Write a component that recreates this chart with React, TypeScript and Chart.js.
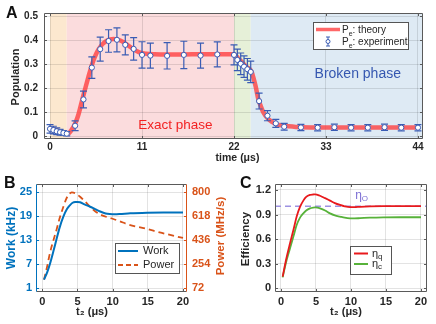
import React, { useEffect, useRef } from "react";
import { Chart, registerables } from "chart.js";

Chart.register(...registerables);

const FF = "'Liberation Sans', Arial, Helvetica, sans-serif";
const GRID = "rgba(0,0,0,0.11)";
const BOX = "#5a5a5a";
const INK = "#262626";

// ===== Panel A: excited-state population vs time =====
const theoryTime = [0, 0.5, 1, 1.5, 2, 2.2, 2.5, 2.8, 3.1, 3.4, 3.7, 4.0, 4.3, 4.6, 4.9, 5.2, 5.5, 5.8, 6.1, 6.4, 6.8, 7.2, 7.6, 8.0, 8.4, 8.8, 9.2, 9.6, 10.0, 10.4, 10.8, 11.5, 12.5, 14, 16, 18, 20, 22, 22.5, 23, 23.5, 24.1, 24.35, 24.6, 24.9, 25.2, 25.5, 26.1, 26.6, 27.1, 27.8, 28.5, 30, 33, 36, 40, 44];
const theoryPop = [0.033, 0.028, 0.022, 0.016, 0.011, 0.011, 0.022, 0.038, 0.06, 0.09, 0.13, 0.171, 0.21, 0.248, 0.285, 0.317, 0.342, 0.362, 0.377, 0.388, 0.398, 0.404, 0.405, 0.404, 0.399, 0.392, 0.382, 0.372, 0.362, 0.354, 0.348, 0.344, 0.342, 0.341, 0.341, 0.342, 0.342, 0.342, 0.325, 0.307, 0.289, 0.269, 0.24, 0.206, 0.155, 0.125, 0.1, 0.071, 0.058, 0.049, 0.044, 0.041, 0.037, 0.036, 0.036, 0.036, 0.036];
const expTime = [0, 0.4, 0.8, 1.2, 1.6, 2.0, 3, 4, 5, 6, 7, 8, 9, 10, 11, 12, 14, 16, 18, 20, 22, 22.4, 22.8, 23.2, 23.6, 24, 25, 26, 27, 28, 30, 32, 34, 36, 38, 40, 42, 44];
const expPop = [0.03, 0.025, 0.02, 0.016, 0.013, 0.01, 0.043, 0.153, 0.286, 0.363, 0.397, 0.402, 0.381, 0.364, 0.339, 0.336, 0.335, 0.339, 0.336, 0.341, 0.339, 0.318, 0.302, 0.29, 0.279, 0.268, 0.146, 0.085, 0.053, 0.039, 0.036, 0.035, 0.037, 0.035, 0.035, 0.037, 0.035, 0.035];
const expErr = [0.018, 0.016, 0.014, 0.012, 0.01, 0.009, 0.02, 0.035, 0.045, 0.05, 0.047, 0.05, 0.042, 0.047, 0.055, 0.052, 0.055, 0.057, 0.052, 0.052, 0.042, 0.045, 0.045, 0.045, 0.045, 0.045, 0.033, 0.021, 0.017, 0.014, 0.013, 0.013, 0.013, 0.013, 0.013, 0.013, 0.013, 0.013];
const bandStart = [0, 2, 22, 24];
const bandEnd = [2, 22, 24, 1000];
const bandColors = ["#fce8cf", "#fbdcdd", "#e6f0d8", "#deeaf4"];
const timeTicks = [0, 11, 22, 33, 44];
const popTicks = [0, 0.1, 0.2, 0.3, 0.4, 0.5];

// ===== Panel B: work and power vs t2 =====
const workTime = [0.24, 0.7, 1.09, 1.6, 2.04, 2.5, 2.99, 3.5, 3.94, 4.3, 4.66, 5.0, 5.37, 6.0, 6.79, 7.5, 8.22, 9.0, 9.6, 10.3, 11.0, 12.5, 14.9, 17.2, 20];
const workKHz = [3.1, 5.0, 7.1, 10.4, 13.4, 16.4, 18.9, 20.8, 21.8, 22.4, 22.6, 22.6, 22.5, 22.0, 21.4, 20.8, 20.2, 19.7, 19.55, 19.5, 19.55, 19.75, 19.9, 19.95, 19.95];
const powerTime = [0.24, 0.7, 1.09, 1.6, 2.04, 2.5, 2.99, 3.4, 3.7, 4.0, 4.2, 4.4, 4.66, 5.0, 5.37, 6.0, 6.79, 7.5, 8.5, 9.9, 11.0, 12.25, 14.6, 17.0, 20];
const powerMHz = [136, 240, 340, 440, 520, 610, 690, 750, 780, 796, 800, 798, 793, 782, 767, 735, 690, 657, 625, 601, 580, 555, 525, 491, 453];
const workTicks = [1, 7, 13, 19, 25];
const powerTicks = [72, 254, 436, 618, 800];
const t2Ticks = [0, 5, 10, 15, 20];

// ===== Panel C: efficiency vs t2 =====
const effTime = [0.24, 0.7, 1.29, 1.8, 2.24, 2.7, 3.19, 3.6, 4.14, 4.6, 4.86, 5.2, 5.57, 6.3, 7.0, 7.7, 8.43, 9.1, 9.86, 10.5, 11.3, 12.7, 14.6, 17, 20];
const etaQ = [0.142, 0.34, 0.55, 0.72, 0.875, 0.99, 1.07, 1.115, 1.14, 1.145, 1.147, 1.14, 1.13, 1.1, 1.07, 1.04, 1.017, 1.0, 0.99, 0.99, 0.995, 1.0, 1.002, 1.002, 1.002];
const etaC = [0.134, 0.31, 0.488, 0.64, 0.773, 0.86, 0.915, 0.95, 0.976, 0.986, 0.988, 0.985, 0.976, 0.95, 0.915, 0.89, 0.875, 0.862, 0.854, 0.853, 0.856, 0.862, 0.866, 0.867, 0.867];
const etaO = 1.0;
const effTicks = [0, 0.3, 0.6, 0.9, 1.2];

const EXP_BLUE = "#3a5cb4";
const THEORY_RED = "rgba(255,60,60,0.78)";
const WORK_BLUE = "#0072BD";
const POWER_ORANGE = "#D95319";
const ETA_Q = "#e8191c";
const ETA_C = "#57b23a";
const ETA_O = "#9d92e2";

const pts = (xs: number[], ys: number[]) => xs.map((x, i) => ({ x, y: ys[i] }));

function fixSize(size: number) {
  return (s: any) => {
    if (s.isHorizontal()) s.height = size;
    else s.width = size;
    s.paddingLeft = 0;
    s.paddingRight = 0;
    s.paddingTop = 0;
    s.paddingBottom = 0;
  };
}
function setTicks(values: number[]) {
  return (s: any) => {
    s.ticks = values.map((v) => ({ value: v }));
  };
}
function axis(o: any) {
  return {
    type: "linear",
    position: o.position,
    min: o.min,
    max: o.max,
    afterBuildTicks: setTicks(o.ticks),
    afterFit: fixSize(o.size),
    grid: { display: o.grid !== false, color: GRID, drawTicks: false, lineWidth: 1 },
    border: { display: false },
    ticks: {
      autoSkip: false,
      maxRotation: 0,
      minRotation: 0,
      padding: o.pad,
      color: o.color || INK,
      font: { family: FF, size: o.font, weight: "bold" },
      callback: (v: any) => String(v),
    },
  };
}

function seg(ctx: CanvasRenderingContext2D, x0: number, y0: number, x1: number, y1: number, color: string, w = 1) {
  ctx.strokeStyle = color;
  ctx.lineWidth = w;
  ctx.beginPath();
  ctx.moveTo(x0, y0);
  ctx.lineTo(x1, y1);
  ctx.stroke();
}
function frame(ctx: CanvasRenderingContext2D, a: any, c: any = {}) {
  const L = Math.round(a.left) + 0.5, R = Math.round(a.right) - 0.5;
  const T = Math.round(a.top) + 0.5, B = Math.round(a.bottom) - 0.5;
  seg(ctx, L, T, R, T, c.t || BOX);
  seg(ctx, L, B, R, B, c.b || BOX);
  seg(ctx, L, T, L, B, c.l || BOX);
  seg(ctx, R, T, R, B, c.r || BOX);
}
function tickMarks(chart: any, id: string, sides: string[], color = BOX, len = 3) {
  const { ctx, chartArea: a } = chart;
  const s = chart.scales[id];
  for (const t of s.ticks) {
    const p = Math.round(s.getPixelForValue(t.value)) + 0.5;
    for (const side of sides) {
      if (side === "b") seg(ctx, p, a.bottom, p, a.bottom - len, color);
      if (side === "t") seg(ctx, p, a.top, p, a.top + len, color);
      if (side === "l") seg(ctx, a.left, p, a.left + len, p, color);
      if (side === "r") seg(ctx, a.right, p, a.right - len, p, color);
    }
  }
}
type Run = [string, number, number];
function rich(ctx: CanvasRenderingContext2D, runs: Run[], x: number, y: number, color: string, weight = "normal") {
  ctx.fillStyle = color;
  ctx.textBaseline = "alphabetic";
  ctx.textAlign = "left";
  let cx = x;
  for (const [t, s, dy] of runs) {
    ctx.font = `${weight} ${s}px ${FF}`;
    ctx.fillText(t, cx, y + dy);
    cx += ctx.measureText(t).width;
  }
  return cx - x;
}
function vtext(ctx: CanvasRenderingContext2D, text: string, x: number, y: number, size: number, color: string) {
  ctx.save();
  ctx.translate(x, y);
  ctx.rotate(-Math.PI / 2);
  ctx.font = `bold ${size}px ${FF}`;
  ctx.fillStyle = color;
  ctx.textAlign = "center";
  ctx.textBaseline = "middle";
  ctx.fillText(text, 0, 0);
  ctx.restore();
}
function htext(ctx: CanvasRenderingContext2D, text: string, x: number, y: number, size: number, color: string, weight = "bold", align: CanvasTextAlign = "center") {
  ctx.font = `${weight} ${size}px ${FF}`;
  ctx.fillStyle = color;
  ctx.textAlign = align;
  ctx.textBaseline = "middle";
  ctx.fillText(text, x, y);
}
function legendBox(ctx: CanvasRenderingContext2D, x: number, y: number, w: number, h: number) {
  ctx.fillStyle = "#ffffff";
  ctx.fillRect(x, y, w, h);
  ctx.strokeStyle = "#555";
  ctx.lineWidth = 1;
  ctx.strokeRect(Math.round(x) + 0.5, Math.round(y) + 0.5, Math.round(w), Math.round(h));
}
function letter(ctx: CanvasRenderingContext2D, t: string, x: number, y: number) {
  ctx.font = `bold 16px ${FF}`;
  ctx.fillStyle = "#111";
  ctx.textAlign = "left";
  ctx.textBaseline = "alphabetic";
  ctx.fillText(t, x, y);
}

const base = (padding: any) => ({
  responsive: false,
  maintainAspectRatio: false,
  animation: false as const,
  events: [] as any[],
  layout: { padding },
  plugins: { legend: { display: false }, tooltip: { enabled: false } },
});

function configA(): any {
  const plugin = {
    id: "panelA",
    beforeDraw(chart: any) {
      const { ctx, chartArea: a, scales } = chart;
      const x = scales.x;
      ctx.save();
      for (let i = 0; i < bandStart.length; i++) {
        const x0 = Math.max(a.left, x.getPixelForValue(bandStart[i]));
        const x1 = Math.min(a.right, x.getPixelForValue(bandEnd[i]));
        ctx.fillStyle = bandColors[i];
        ctx.fillRect(x0, a.top, x1 - x0, a.bottom - a.top);
      }
      ctx.restore();
    },
    afterDatasetDraw(chart: any, args: any) {
      if (args.index !== 1) return;
      const { ctx, scales } = chart;
      const { x, y } = scales;
      ctx.save();
      const cap = 3.5;
      expTime.forEach((t, i) => {
        const px = x.getPixelForValue(t);
        const top = y.getPixelForValue(expPop[i] + expErr[i]);
        const bot = y.getPixelForValue(expPop[i] - expErr[i]);
        ctx.strokeStyle = EXP_BLUE;
        ctx.lineWidth = 1.2;
        ctx.beginPath();
        ctx.moveTo(px, top);
        ctx.lineTo(px, bot);
        ctx.moveTo(px - cap, top);
        ctx.lineTo(px + cap, top);
        ctx.moveTo(px - cap, bot);
        ctx.lineTo(px + cap, bot);
        ctx.stroke();
      });
      ctx.restore();
    },
    afterDraw(chart: any) {
      const { ctx, chartArea: a, scales } = chart;
      const { x, y } = scales;
      ctx.save();
      frame(ctx, a);
      tickMarks(chart, "x", ["b", "t"]);
      tickMarks(chart, "y", ["l", "r"]);
      htext(ctx, "Exact phase", x.getPixelForValue(15), y.getPixelForValue(0.045), 13.5, "#f22222", "normal");
      htext(ctx, "Broken phase", x.getPixelForValue(36.8), y.getPixelForValue(0.258), 14, "#3557b0", "normal");
      // legend
      const lx = a.right - 110, ly = a.top + 9;
      legendBox(ctx, lx, ly, 95, 27);
      seg(ctx, lx + 3, ly + 7.5, lx + 27, ly + 7.5, THEORY_RED, 3.5);
      rich(ctx, [["P", 10, 0], ["e", 7, 2.5], [": theory", 10, 0]], lx + 29, ly + 11, INK);
      const ex = lx + 15, ey = ly + 19.5;
      ctx.strokeStyle = EXP_BLUE;
      ctx.lineWidth = 1;
      ctx.beginPath();
      ctx.moveTo(ex, ey - 4.5); ctx.lineTo(ex, ey + 4.5);
      ctx.moveTo(ex - 2, ey - 4.5); ctx.lineTo(ex + 2, ey - 4.5);
      ctx.moveTo(ex - 2, ey + 4.5); ctx.lineTo(ex + 2, ey + 4.5);
      ctx.stroke();
      ctx.fillStyle = "#fff";
      ctx.beginPath();
      ctx.arc(ex, ey, 2, 0, Math.PI * 2);
      ctx.fill();
      ctx.stroke();
      rich(ctx, [["P", 10, 0], ["e", 7, 2.5], [": experiment", 10, 0]], lx + 29, ly + 23, INK);
      // titles
      vtext(ctx, "Population", 16, (a.top + a.bottom) / 2 + 1, 11, INK);
      htext(ctx, "time (μs)", (a.left + a.right) / 2 + 4, a.bottom + 19.5, 10.5, INK);
      letter(ctx, "A", 6, 18);
      ctx.restore();
    },
  };
  return {
    type: "scatter",
    data: {
      datasets: [
        {
          label: "Pe: experiment",
          data: pts(expTime, expPop),
          showLine: false,
          pointRadius: 2.6,
          pointBorderWidth: 1,
          pointBackgroundColor: "#ffffff",
          pointBorderColor: EXP_BLUE,
          order: 0,
        },
        {
          label: "Pe: theory",
          data: pts(theoryTime, theoryPop),
          showLine: true,
          borderColor: THEORY_RED,
          borderWidth: 4.5,
          pointRadius: 0,
          cubicInterpolationMode: "monotone",
          order: 1,
        },
      ],
    },
    options: {
      ...base({ left: 0, top: 13, right: 13, bottom: 0 }),
      scales: {
        x: axis({ min: -0.72, max: 44.6, ticks: timeTicks, size: 26, font: 10, pad: 2, position: "bottom" }),
        y: axis({ min: -0.0123, max: 0.514, ticks: popTicks, size: 44, font: 10, pad: 6, position: "left" }),
      },
    },
    plugins: [plugin],
  };
}

function configB(): any {
  const plugin = {
    id: "panelB",
    afterDraw(chart: any) {
      const { ctx, chartArea: a } = chart;
      ctx.save();
      frame(ctx, a, { l: WORK_BLUE, r: POWER_ORANGE });
      tickMarks(chart, "x", ["b", "t"]);
      tickMarks(chart, "y", ["l"], WORK_BLUE);
      tickMarks(chart, "y2", ["r"], POWER_ORANGE);
      const lx = a.right - 72, ly = a.bottom - 49;
      legendBox(ctx, lx, ly, 64, 30);
      seg(ctx, lx + 3, ly + 8, lx + 23, ly + 8, WORK_BLUE, 2);
      ctx.setLineDash([5, 3]);
      seg(ctx, lx + 3, ly + 22, lx + 23, ly + 22, POWER_ORANGE, 2);
      ctx.setLineDash([]);
      htext(ctx, "Work", lx + 28, ly + 8, 11, INK, "normal", "left");
      htext(ctx, "Power", lx + 28, ly + 22, 11, INK, "normal", "left");
      vtext(ctx, "Work (kHz)", 12, (a.top + a.bottom) / 2, 12, WORK_BLUE);
      vtext(ctx, "Power (MHz/s)", 221, (a.top + a.bottom) / 2 - 2, 11.5, POWER_ORANGE);
      htext(ctx, "t₂ (μs)", 92, a.bottom + 20, 11, INK);
      letter(ctx, "B", 4, 23);
      ctx.restore();
    },
  };
  return {
    type: "scatter",
    data: {
      datasets: [
        {
          label: "Work",
          data: pts(workTime, workKHz),
          showLine: true,
          borderColor: WORK_BLUE,
          borderWidth: 2,
          pointRadius: 0,
          cubicInterpolationMode: "monotone",
          yAxisID: "y",
        },
        {
          label: "Power",
          data: pts(powerTime, powerMHz),
          showLine: true,
          borderColor: POWER_ORANGE,
          borderWidth: 1.8,
          borderDash: [6, 4],
          pointRadius: 0,
          cubicInterpolationMode: "monotone",
          yAxisID: "y2",
        },
      ],
    },
    options: {
      ...base({ left: 0, top: 19, right: 0, bottom: 0 }),
      scales: {
        x: axis({ min: -0.9, max: 20.57, ticks: t2Ticks, size: 32, font: 11, pad: 3, position: "bottom" }),
        y: axis({ min: 0, max: 27.1, ticks: workTicks, size: 36, font: 11, pad: 4, position: "left", color: WORK_BLUE }),
        y2: axis({ min: 41.67, max: 863.7, ticks: powerTicks, size: 45, font: 11, pad: 5, position: "right", color: POWER_ORANGE, grid: false }),
      },
    },
    plugins: [plugin],
  };
}

function configC(): any {
  const plugin = {
    id: "panelC",
    beforeDatasetsDraw(chart: any) {
      const { ctx, chartArea: a, scales } = chart;
      const py = scales.y.getPixelForValue(etaO);
      ctx.save();
      ctx.setLineDash([6, 4]);
      seg(ctx, a.left, py, a.right, py, ETA_O, 1.5);
      ctx.restore();
    },
    afterDraw(chart: any) {
      const { ctx, chartArea: a, scales } = chart;
      ctx.save();
      frame(ctx, a);
      tickMarks(chart, "x", ["b", "t"]);
      tickMarks(chart, "y", ["l", "r"]);
      rich(ctx, [["η", 12, 0], ["O", 8, 2]], scales.x.getPixelForValue(10.6), scales.y.getPixelForValue(etaO) - 7, "#7d6fd4");
      const lx = a.right - 77, ly = a.bottom - 46;
      legendBox(ctx, lx, ly, 41, 28);
      seg(ctx, lx + 4, ly + 7.5, lx + 18, ly + 7.5, ETA_Q, 2);
      seg(ctx, lx + 4, ly + 18, lx + 18, ly + 18, ETA_C, 2);
      rich(ctx, [["η", 11, 0], ["q", 8, 2]], lx + 22, ly + 10.5, INK);
      rich(ctx, [["η", 11, 0], ["c", 8, 2]], lx + 22, ly + 21, INK);
      vtext(ctx, "Efficiency", 14, (a.top + a.bottom) / 2 + 1, 11.5, INK);
      htext(ctx, "t₂ (μs)", (a.left + a.right) / 2 - 5, a.bottom + 20, 11, INK);
      letter(ctx, "C", 8, 23);
      ctx.restore();
    },
  };
  return {
    type: "scatter",
    data: {
      datasets: [
        {
          label: "ηq",
          data: pts(effTime, etaQ),
          showLine: true,
          borderColor: ETA_Q,
          borderWidth: 1.8,
          pointRadius: 0,
          cubicInterpolationMode: "monotone",
        },
        {
          label: "ηc",
          data: pts(effTime, etaC),
          showLine: true,
          borderColor: ETA_C,
          borderWidth: 1.8,
          pointRadius: 0,
          cubicInterpolationMode: "monotone",
        },
      ],
    },
    options: {
      ...base({ left: 0, top: 19, right: 9, bottom: 0 }),
      scales: {
        x: axis({ min: -0.857, max: 20.86, ticks: t2Ticks, size: 32, font: 11, pad: 3, position: "bottom" }),
        y: axis({ min: -0.045, max: 1.273, ticks: effTicks, size: 43, font: 11, pad: 4, position: "left" }),
      },
    },
    plugins: [plugin],
  };
}

if (typeof document !== "undefined") document.body.style.margin = "0";

export default function App() {
  const refA = useRef<HTMLCanvasElement>(null);
  const refB = useRef<HTMLCanvasElement>(null);
  const refC = useRef<HTMLCanvasElement>(null);
  useEffect(() => {
    document.body.style.margin = "0";
    const charts = [
      new Chart(refA.current as HTMLCanvasElement, configA()),
      new Chart(refB.current as HTMLCanvasElement, configB()),
      new Chart(refC.current as HTMLCanvasElement, configC()),
    ];
    return () => charts.forEach((c) => c.destroy());
  }, []);
  return (
    <div style={{ position: "relative", width: 436, height: 324, background: "#ffffff", overflow: "hidden" }}>
      <canvas ref={refA} width={436} height={165} style={{ position: "absolute", left: 0, top: 0 }} />
      <canvas ref={refB} width={232} height={159} style={{ position: "absolute", left: 0, top: 165 }} />
      <canvas ref={refC} width={204} height={159} style={{ position: "absolute", left: 232, top: 165 }} />
    </div>
  );
}
